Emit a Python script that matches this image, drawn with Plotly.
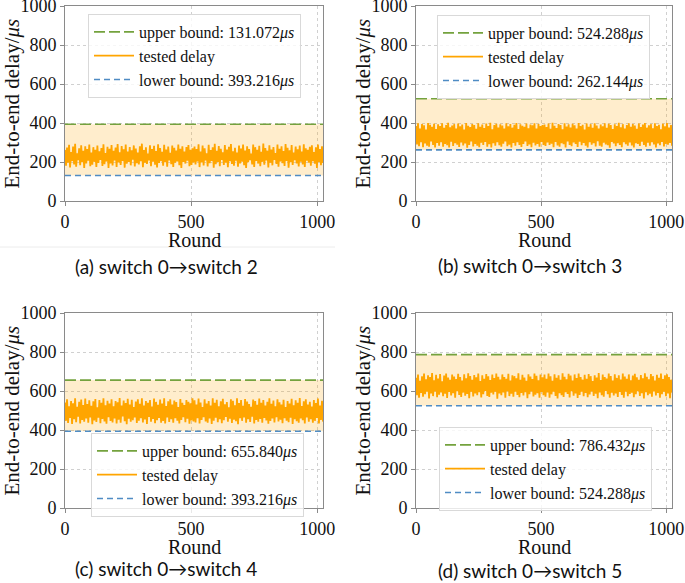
import plotly.graph_objects as go
import numpy as np

# ---------------- data ----------------
panel_captions = ["(a) switch 0→switch 2", "(b) switch 0→switch 3",
                  "(c) switch 0→switch 4", "(d) switch 0→switch 5"]
upper_bound_values = [393.216, 524.288, 655.840, 786.432]
lower_bound_values = [131.072, 262.144, 393.216, 524.288]
upper_label_values = ["131.072", "524.288", "655.840", "786.432"]
lower_label_values = ["393.216", "262.144", "393.216", "524.288"]

delay_a = [262,181,274,196,288,172,251,205,279,188,293,176,244,210,270,184,286,199,258,170,281,192,267,207,290,178,249,186,276,201,263,174,
           284,195,255,211,272,180,291,189,246,203,278,169,268,193,287,182,257,208,274,175,292,198,250,185,282,206,265,171,289,191,253,200,
           277,183,260,212,285,177,269,194,248,187,280,204,294,173,261,197,275,190,243,209,286,179,266,202,283,186,256,172,291,195,271,205,
           252,181,288,199,264,176,279,208,247,189,285,174,273,196,259,203,290,183,268,170,281,201,254,192,276,207,287,178,262,185,270,198,
           279,187,266,203,291,174,253,198,284,182,270,209,245,177,288,194,261,206,275,171,293,189,257,200,282,179,268,211,250,185,287,196,
           264,173,278,204,292,190,255,181,273,207,248,176,285,193,269,202,289,184,259,170,280,199,266,210,243,187,290,175,276,205,262,192,
           283,178,252,201,295,186,271,208,258,172,286,197,264,183,277,211,246,190,289,176,268,203,281,194,256,180,292,206,273,171,260,199,
           287,185,249,209,279,193,265,177,284,202,254,188,291,174,270,207,262,196,278,181,286,204,251,191,275,169,289,200,267,184,281,195]
delay_b = [385,290,398,281,372,301,395,276,388,295,367,284,400,279,391,306,380,287,396,274,369,298,393,283,384,302,399,278,375,292,390,286,
           401,275,378,304,387,282,394,297,371,289,397,277,383,300,392,285,366,295,400,273,386,288,379,305,395,280,389,293,370,284,398,276,
           381,299,392,287,374,303,397,279,385,291,401,274,368,296,390,283,396,301,377,286,393,278,387,294,372,306,399,281,383,289,395,275,
           376,298,391,284,400,302,369,288,394,277,386,293,380,305,397,282,373,290,392,276,388,299,398,285,371,292,395,279,384,303,390,287,
           392,282,379,300,397,287,370,294,401,276,386,303,374,285,395,279,389,297,368,291,399,274,382,305,393,288,377,281,396,300,388,292,
           372,277,400,304,384,286,391,298,367,283,397,275,380,301,394,289,376,296,399,280,387,307,371,284,392,278,383,299,398,290,375,286,
           396,273,389,303,369,295,393,281,385,297,401,288,378,276,394,302,372,291,390,283,399,300,381,285,395,274,387,296,370,293,397,282,
           379,304,392,287,400,278,376,299,388,284,394,301,373,290,398,275,385,295,391,286,368,303,396,280,383,292,400,289,377,298,389,283]
delay_c = [541,447,558,436,522,462,549,431,537,455,563,440,519,468,545,434,556,451,528,443,561,459,533,438,552,465,524,430,547,449,559,441,
           516,463,554,435,539,457,562,444,527,432,550,466,535,446,557,439,521,460,548,433,542,453,564,437,525,469,551,445,538,430,560,458,
           530,442,555,450,518,464,546,436,557,448,534,461,563,439,526,454,549,431,540,467,553,443,520,457,561,435,544,450,529,462,556,438,
           536,446,562,433,523,465,547,441,558,455,531,437,551,460,543,448,517,434,559,452,539,466,528,440,554,458,545,432,537,449,563,444,
           552,439,530,460,561,433,541,452,518,466,557,444,535,437,549,459,526,431,563,448,539,463,555,440,522,456,547,435,560,450,532,467,
           543,442,516,458,558,436,550,453,527,445,562,430,538,461,553,447,524,464,559,438,546,455,533,441,519,468,556,434,548,451,529,443,
           561,457,540,437,554,462,525,449,545,432,563,446,534,459,551,439,521,466,558,444,542,453,530,435,555,461,517,448,549,440,536,463,
           560,431,527,456,552,445,539,438,564,459,523,450,547,434,557,465,531,442,544,455,520,437,553,447,538,462,561,433,526,452,550,443]
delay_d = [668,578,685,565,652,590,676,571,689,583,660,596,681,562,671,587,692,574,655,598,683,568,664,581,687,593,650,573,679,586,690,564,
           669,595,657,577,684,589,674,566,661,599,688,580,672,570,653,592,686,576,665,585,691,563,677,597,658,572,682,588,670,579,689,594,
           651,567,680,584,663,600,687,575,675,569,656,591,684,582,667,596,690,561,673,587,659,578,685,593,671,565,662,599,688,574,654,586,
           681,571,676,597,665,580,691,568,657,590,683,577,669,594,652,563,686,584,674,598,661,572,689,581,678,589,655,566,684,595,670,579,
           684,571,663,592,689,566,675,583,652,597,686,575,668,562,681,589,657,578,691,570,673,594,660,585,688,567,679,599,654,576,685,587,
           666,564,690,580,672,596,658,573,683,590,662,568,687,582,676,598,651,575,680,586,669,563,692,593,656,579,684,571,671,600,664,584,
           689,566,677,591,653,577,686,588,667,570,681,595,659,580,690,565,674,597,662,573,685,585,655,592,679,568,688,583,670,599,657,575,
           682,589,665,562,691,594,673,579,660,586,687,571,676,598,654,577,683,590,668,566,689,584,661,596,680,573,686,587,672,563,658,592]
delays = [delay_a, delay_b, delay_c, delay_d]

round_max = 1023
y_tick_values = [0, 200, 400, 600, 800, 1000]
x_tick_values = [0, 500, 1000]

# ---------------- style ----------------
W, H = 685, 583
ORANGE = "#ffa500"
FILL = "rgba(255,165,0,0.2)"
GREEN = "#74a23e"
BLUE = "#4f8cc4"
SERIF = "Liberation Serif, Times New Roman, serif"
SANS = "Lato, sans-serif"

# plot areas in pixels: (left, right, top, bottom)
boxes = [(65, 323, 6, 201), (416, 672, 6, 201), (65, 323, 313, 508), (416, 672, 313, 508)]
legend_pos = [(88, 14), (437, 15), (91, 433), (439, 427)]
caption_pos = [(166, 266), (530, 265), (166, 568), (530, 570)]

def px(x):
    return x / W

def py(y):
    return 1 - y / H

fig = go.Figure()
layout = dict(width=W, height=H, margin=dict(l=0, r=0, t=0, b=0, autoexpand=False),
              paper_bgcolor="white", plot_bgcolor="white", annotations=[], shapes=[])

for i in range(4):
    n = i + 1
    sfx = "" if n == 1 else str(n)
    xa, ya, leg = "x" + sfx, "y" + sfx, "legend" + sfx
    delay = delays[i]
    up, lo = upper_bound_values[i], lower_bound_values[i]
    rounds = np.linspace(0, round_max, len(delay))

    fig.add_trace(go.Scatter(x=[0, round_max], y=[lo, lo], mode="lines", line=dict(width=0),
                             showlegend=False, hoverinfo="skip", xaxis=xa, yaxis=ya))
    fig.add_trace(go.Scatter(x=[0, round_max], y=[up, up], mode="lines", line=dict(width=0),
                             fill="tonexty", fillcolor=FILL, showlegend=False, hoverinfo="skip",
                             xaxis=xa, yaxis=ya))
    fig.add_trace(go.Scatter(x=[0, round_max], y=[up, up], mode="lines",
                             line=dict(color=GREEN, width=1.6, dash="11px,4px"),
                             name=f"upper bound: {upper_label_values[i]}<i>μs</i>",
                             legend=leg, xaxis=xa, yaxis=ya))
    fig.add_trace(go.Scatter(x=rounds, y=delay, mode="lines",
                             line=dict(color=ORANGE, width=1.8),
                             name="tested delay", legend=leg, xaxis=xa, yaxis=ya))
    fig.add_trace(go.Scatter(x=[0, round_max], y=[lo, lo], mode="lines",
                             line=dict(color=BLUE, width=1.6, dash="6px,4px"),
                             name=f"lower bound: {lower_label_values[i]}<i>μs</i>",
                             legend=leg, xaxis=xa, yaxis=ya))

    l, r, t, b = boxes[i]
    axis_common = dict(showline=True, mirror=True, linecolor="#8a8a8a", linewidth=1,
                       showgrid=True, gridcolor="#d0d0d0", griddash="dot", gridwidth=1,
                       zeroline=False, ticks="outside", ticklen=4, tickcolor="#8a8a8a",
                       automargin=False, ticklabeloverflow="allow",
                       tickfont=dict(family=SERIF, size=18, color="#111"))
    layout["xaxis" + sfx] = dict(domain=[px(l), px(r)], anchor=ya, range=[0, round_max],
                                 tickvals=x_tick_values, **axis_common)
    layout["yaxis" + sfx] = dict(domain=[py(b), py(t)], anchor=xa, range=[0, 1000],
                                 tickvals=y_tick_values, **axis_common)
    lx, ly = legend_pos[i]
    layout[leg] = dict(x=px(lx), y=py(ly), xanchor="left", yanchor="top", traceorder="normal",
                       bgcolor="rgba(255,255,255,0.8)", bordercolor="#d9d9d9", borderwidth=1,
                       font=dict(family=SERIF, size=16, color="#111"), itemwidth=40,
                       tracegroupgap=0)
    # axis titles
    layout["annotations"].append(dict(text="Round", x=px((l + r) / 2), y=py(b + 39),
                                      xref="paper", yref="paper", showarrow=False,
                                      xanchor="center", yanchor="middle",
                                      font=dict(family=SERIF, size=20, color="#111")))
    layout["annotations"].append(dict(text="End-to-end delay/<i>μs</i>", x=px(l - 54), y=py((t + b) / 2),
                                      xref="paper", yref="paper", showarrow=False, textangle=-90,
                                      xanchor="center", yanchor="middle",
                                      font=dict(family=SERIF, size=21, color="#111")))
    cx, cy = caption_pos[i]
    layout["annotations"].append(dict(text=panel_captions[i], x=px(cx), y=py(cy),
                                      xref="paper", yref="paper", showarrow=False,
                                      xanchor="center", yanchor="middle",
                                      font=dict(family=SANS, size=19, color="#111")))

layout["shapes"].append(dict(type="line", xref="paper", yref="paper", x0=0, x1=px(335),
                             y0=py(247), y1=py(247), line=dict(color="#ececec", width=1)))

fig.update_layout(**layout)
fig.write_html("out.html", config={"displayModeBar": False},
               post_script="document.body.style.margin='0';document.body.style.overflow='hidden';")
